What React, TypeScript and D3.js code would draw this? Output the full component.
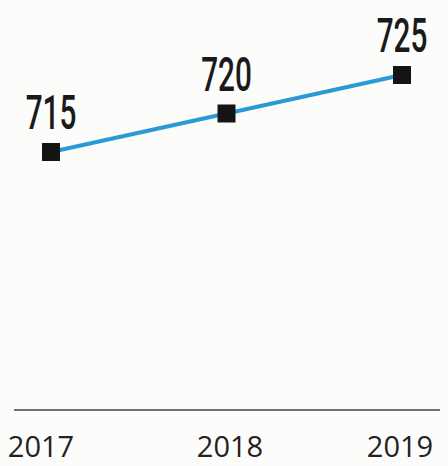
import React from "react";
import * as d3 from "d3";

const years = ["2017", "2018", "2019"];
const values = [715, 720, 725];

const W = 448;
const H = 466;

export default function App() {
  const x = d3.scalePoint<string>().domain(years).range([51, 402]);
  const y = d3.scaleLinear().domain([715, 725]).range([152, 75]);
  const data = years.map((yr, i) => ({ yr, v: values[i] }));
  const line = d3
    .line<{ yr: string; v: number }>()
    .x((d) => x(d.yr) as number)
    .y((d) => y(d.v));
  const ms = 18;
  return (
    <svg
      width={W}
      height={H}
      style={{ position: "absolute", left: 0, top: 0, background: "#fcfcfa" }}
    >
      <path d={line(data) || ""} fill="none" stroke="#2a9ad6" strokeWidth={4} />
      {data.map((d) => (
        <rect
          key={"m" + d.yr}
          x={(x(d.yr) as number) - ms / 2}
          y={y(d.v) - ms / 2}
          width={ms}
          height={ms}
          fill="#141414"
        />
      ))}
      {data.map((d) => (
        <g key={"l" + d.yr} transform={`translate(${x(d.yr)},${y(d.v) - 23}) scale(0.62,1)`}>
          <text
            textAnchor="middle"
            fontFamily="Roboto, sans-serif"
            fontWeight={500}
            fontSize={48}
            fill="#1a1a1a"
          >
            {d.v}
          </text>
        </g>
      ))}
      <line x1={14} x2={440} y1={410} y2={410} stroke="#444" strokeWidth={1.5} />
      {years.map((yr, i) => (
        <text
          key={"y" + yr}
          x={[41, 230, 400][i]}
          y={457}
          textAnchor="middle"
          fontFamily="'Open Sans', sans-serif"
          fontSize={29}
          fill="#222"
        >
          {yr}
        </text>
      ))}
    </svg>
  );
}
